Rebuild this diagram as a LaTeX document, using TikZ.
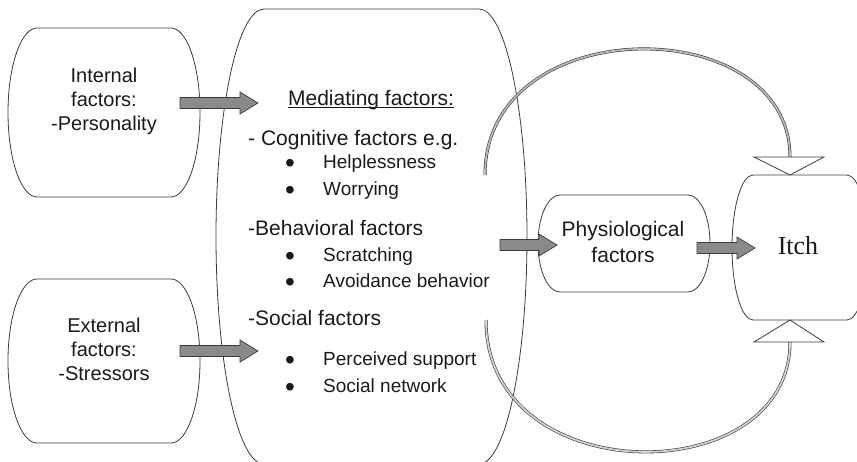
\documentclass[tikz,border=0pt]{standalone}
\usepackage{fontspec}
\setmainfont{Liberation Sans}
\newfontfamily\itchfont{Liberation Serif}
\usetikzlibrary{calc}
\definecolor{LineGray}{HTML}{3C3C3C}
\definecolor{ArrowFill}{HTML}{8A8A8A}
\definecolor{TextBlack}{HTML}{1A1A1A}
\tikzset{
    % Box styles
    boxline/.style={
        draw=LineGray,
        line width=0.8pt
    },
    boxtext/.style={
        align=center,
        text=TextBlack,
        inner sep=0pt,
        font=\fontsize{20}{24}\selectfont
    },
    listtext/.style={
        anchor=base west,
        text=TextBlack,
        inner sep=0pt,
        font=\fontsize{21}{25}\selectfont
    },
    itemtext/.style={
        listtext,
        font=\fontsize{19}{23}\selectfont
    },
    % Arrow styles
    grayarrow/.style={
        draw=LineGray,
        fill=ArrowFill,
        line width=0.7pt
    },
    looparc/.style={
        draw=LineGray,
        double=gray!55,
        line width=0.6pt,
        double distance=1.8pt
    },
    openhead/.style={
        draw=LineGray,
        fill=white,
        line width=0.8pt
    }
}
% box with flat top and bottom and bulging sides: name, left, right, top, bottom, bulge
\newcommand{\bulgebox}[6]{%
    \draw[boxline] ({#2+#6},#4) -- ({#3-#6},#4)
        arc[start angle=90, end angle=-90, x radius=#6pt, y radius={((#5-#4)/2)*1pt}]
        -- ({#2+#6},#5)
        arc[start angle=270, end angle=90, x radius=#6pt, y radius={((#5-#4)/2)*1pt}]
        -- cycle;
    \coordinate (#1) at ({(#2+#3)/2},{(#4+#5)/2});
}
% wide gray arrow from tail to tip
\newcommand{\blockarrow}[2]{%
    \draw[grayarrow] ($(#1)+(0,-5.5)$) -- ($(#2)+(-18,-5.5)$) -- ($(#2)+(-18,-11)$)
        -- (#2) -- ($(#2)+(-18,11)$) -- ($(#2)+(-18,5.5)$) -- ($(#1)+(0,5.5)$) -- cycle;
}
\newcommand{\bulletitem}[3]{%
    \node[itemtext] (#1) at (285,#2) {\makebox[38pt][l]{\raisebox{-4pt}{\fontsize{28}{28}\selectfont\textbullet}}#3};
}

\begin{document}
\begin{tikzpicture}[x=1pt, y=-1pt]
    \useasboundingbox (0,0) rectangle (857,461);

    % Boxes
    \bulgebox{intbox}{8}{200}{28}{197}{29}
    \bulgebox{extbox}{8}{200}{279}{443}{29}
    \bulgebox{medbox}{216}{527}{9}{464}{48}
    \bulgebox{physbox}{538}{710}{195}{292}{22}
    \bulgebox{itchbox}{732}{868}{175}{320}{21}

    % Left boxes
    \node[boxtext] (int-text) at (104,101) {Internal\\factors:\\-Personality};
    \node[boxtext] (ext-text) at (104,349) {External\\factors:\\-Stressors};

    % Mediating factors
    \node[listtext, anchor=base] (med-title) at (371,105) {Mediating factors:};
    \draw[TextBlack, line width=0.8pt] ($(med-title.base west)+(0,2.5)$) -- ($(med-title.base east)+(0,2.5)$);
    \node[listtext] (med-cog) at (248,145) {- Cognitive factors e.g.};
    \bulletitem{med-help}{168}{Helplessness}
    \bulletitem{med-worry}{195}{Worrying}
    \node[listtext] (med-behav) at (248,235) {-Behavioral factors};
    \bulletitem{med-scratch}{261}{Scratching}
    \bulletitem{med-avoid}{287}{Avoidance behavior}
    \node[listtext] (med-social) at (248,325) {-Social factors};
    \bulletitem{med-support}{365}{Perceived support}
    \bulletitem{med-network}{392}{Social network}

    % Right boxes
    \node[boxtext, font=\fontsize{21}{26}\selectfont] (phys-text) at (623,242) {Physiological\\factors};
    \node[text=TextBlack, inner sep=0pt, font=\itchfont\fontsize{26}{30}\selectfont] (itch-text) at (798,246) {Itch};

    % Arrow ends
    \coordinate (int-tail) at (180,103);
    \coordinate (int-tip) at (258,103);
    \coordinate (ext-tail) at (180,351);
    \coordinate (ext-tip) at (258,351);
    \coordinate (med-tail) at (500,245);
    \coordinate (phys-tip) at (557,245);
    \coordinate (phys-tail) at (697,248);
    \coordinate (itch-tip) at (755,248);

    \blockarrow{int-tail}{int-tip}
    \blockarrow{ext-tail}{ext-tip}
    \blockarrow{med-tail}{phys-tip}
    \blockarrow{phys-tail}{itch-tip}

    % Feedback loops
    \coordinate (loop-top) at (485,175);
    \coordinate (loop-bot) at (486,320);
    \coordinate (itch-n) at (790,175);
    \coordinate (itch-s) at (790,320);
    \draw[looparc] (loop-top) .. controls (485,10) and (790,10) .. ($(itch-n)+(0,-18)$);
    \draw[looparc, double=gray!35] (loop-bot) .. controls (486,492) and (790,492) .. ($(itch-s)+(0,22)$);
    \draw[openhead] (itch-n) -- ++(-36,-18) -- ++(70,0) -- cycle;
    \draw[openhead] (itch-s) -- ++(-36,22) -- ++(70,0) -- cycle;
\end{tikzpicture}
\end{document}
